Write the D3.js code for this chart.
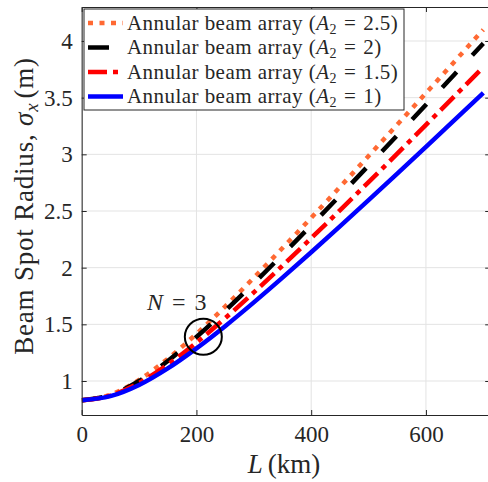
<!DOCTYPE html>
<html>
<head>
<meta charset="utf-8">
<script src="https://cdn.jsdelivr.net/npm/d3@7"></script>
<style>
  body { margin: 0; background: #fff; }
  text { font-family: "Liberation Serif", "DejaVu Serif", serif; fill: #262626; }
</style>
</head>
<body>
<div id="chart"></div>
<script>
// distance L (km)
var distance = [0, 50, 100, 150, 200, 250, 300, 350, 400, 450, 500, 550, 600, 650, 700];

// beam spot radius sigma_x (m)
var radiusA25 = [0.83, 0.879, 1.009, 1.196, 1.416, 1.657, 1.911, 2.173, 2.440, 2.711, 2.986, 3.262, 3.540, 3.820, 4.100];
var radiusA2  = [0.83, 0.876, 1.000, 1.177, 1.388, 1.619, 1.863, 2.115, 2.374, 2.636, 2.901, 3.168, 3.437, 3.707, 3.979];
var radiusA15 = [0.83, 0.871, 0.983, 1.145, 1.339, 1.554, 1.782, 2.018, 2.260, 2.506, 2.755, 3.006, 3.260, 3.514, 3.770];
var radiusA1  = [0.83, 0.866, 0.965, 1.111, 1.288, 1.484, 1.694, 1.912, 2.136, 2.364, 2.596, 2.830, 3.066, 3.304, 3.542];

var seriesLabels = ["2.5", "2", "1.5", "1"];
var xTicks = [0, 200, 400, 600];
var yTicks = [1, 1.5, 2, 2.5, 3, 3.5, 4];

// marked point (N = 3)
var markL = 212, markSigma = 1.39;

var series = [
  {label: seriesLabels[0], values: radiusA25, color: "#ff6933", dash: "5,6.5"},
  {label: seriesLabels[1], values: radiusA2,  color: "#000000", dash: "21,23"},
  {label: seriesLabels[2], values: radiusA15, color: "#ff0000", dash: "19,6,5,6"},
  {label: seriesLabels[3], values: radiusA1,  color: "#0000ff", dash: null}
];

var W = 488, H = 482;
var box = {left: 81.7, right: 490.2, top: 7, bottom: 415};

var svg = d3.select("#chart").append("svg")
    .attr("width", W)
    .attr("height", H);

svg.append("rect").attr("width", W).attr("height", H).attr("fill", "#fff");

var x = d3.scaleLinear().domain([0, 712]).range([box.left, box.right]);
var y = d3.scaleLinear().domain([0.7, 4.3]).range([box.bottom, box.top]);

// grid
var grid = svg.append("g").attr("stroke", "#e3e3e3").attr("stroke-width", 1);
grid.selectAll(".gx").data(xTicks).enter().append("line")
    .attr("x1", function(d) { return x(d); }).attr("x2", function(d) { return x(d); })
    .attr("y1", box.top).attr("y2", box.bottom);
grid.selectAll(".gy").data(yTicks).enter().append("line")
    .attr("x1", box.left).attr("x2", box.right)
    .attr("y1", function(d) { return y(d); }).attr("y2", function(d) { return y(d); });

// curves
svg.append("clipPath").attr("id", "clip")
  .append("rect").attr("x", box.left).attr("y", box.top)
    .attr("width", box.right - box.left).attr("height", box.bottom - box.top);

var line = d3.line()
    .x(function(d, i) { return x(distance[i]); })
    .y(function(d) { return y(d); })
    .curve(d3.curveMonotoneX);

svg.append("g").attr("clip-path", "url(#clip)")
  .selectAll("path").data(series).enter().append("path")
    .attr("d", function(s) { return line(s.values); })
    .attr("fill", "none")
    .attr("stroke", function(s) { return s.color; })
    .attr("stroke-width", 4.5)
    .attr("stroke-dasharray", function(s) { return s.dash; });

// axes (box with inward ticks)
var fmt = function(d) { return String(d); };
var axes = svg.append("g");
axes.append("g")
    .attr("transform", "translate(0," + box.bottom + ")")
    .call(d3.axisBottom(x).tickValues(xTicks).tickFormat(fmt).tickSizeInner(-5).tickSizeOuter(0).tickPadding(11));
axes.append("g")
    .attr("transform", "translate(0," + box.top + ")")
    .call(d3.axisTop(x).tickValues(xTicks).tickSizeInner(-5).tickSizeOuter(0).tickFormat(""));
axes.append("g")
    .attr("transform", "translate(" + box.left + ",0)")
    .call(d3.axisLeft(y).tickValues(yTicks).tickFormat(fmt).tickSizeInner(-5).tickSizeOuter(0).tickPadding(9));
axes.append("g")
    .attr("transform", "translate(" + box.right + ",0)")
    .call(d3.axisRight(y).tickValues(yTicks).tickSizeInner(-5).tickSizeOuter(0).tickFormat(""));

axes.selectAll(".domain").attr("stroke", "#262626").attr("stroke-width", 1);
axes.selectAll(".tick line").attr("stroke", "#262626");
axes.selectAll(".tick text")
    .style("font-family", "'Liberation Serif', serif")
    .style("font-size", "23px")
    .attr("fill", "#262626");

// axis labels
svg.append("text")
    .attr("x", (box.left + box.right) / 2 - 2)
    .attr("y", 473)
    .attr("text-anchor", "middle")
    .style("font-size", "27px")
    .html('<tspan font-style="italic">L</tspan><tspan dx="5">(km)</tspan>');

svg.append("text")
    .attr("transform", "translate(33," + ((box.top + box.bottom) / 2 - 5) + ") rotate(-90)")
    .attr("text-anchor", "middle")
    .style("font-size", "27px")
    .style("letter-spacing", "0.8px")
    .html('Beam Spot Radius, <tspan font-style="italic">σ</tspan><tspan font-style="italic" font-size="19px" dy="5">x</tspan><tspan dy="-5" dx="4">(m)</tspan>');

// N = 3 marker
svg.append("ellipse")
    .attr("cx", x(markL)).attr("cy", y(markSigma))
    .attr("rx", 18.5).attr("ry", 18)
    .attr("fill", "none").attr("stroke", "#000").attr("stroke-width", 2);

svg.append("text")
    .attr("x", 147).attr("y", 310)
    .style("font-size", "24px")
    .attr("fill", "#000")
    .html('<tspan font-style="italic">N</tspan><tspan dx="9">=</tspan><tspan dx="9">3</tspan>');

// legend
var lg = svg.append("g");
lg.append("rect")
    .attr("x", 84).attr("y", 9).attr("width", 320).attr("height", 101)
    .attr("fill", "#fff").attr("stroke", "#262626").attr("stroke-width", 1);

var rows = lg.selectAll(".row").data(series).enter().append("g")
    .attr("transform", function(d, i) { return "translate(0," + (23 + i * 24.5) + ")"; });

rows.append("line")
    .attr("x1", 88).attr("x2", 123)
    .attr("stroke", function(s) { return s.color; })
    .attr("stroke-width", 4.5)
    .attr("stroke-dasharray", function(s) { return s.dash; });

rows.append("text")
    .attr("x", 127).attr("y", 6.5)
    .style("font-size", "21px")
    .style("letter-spacing", "0.45px")
    .attr("fill", "#000")
    .html(function(s) {
      return 'Annular beam array (<tspan font-style="italic">A</tspan><tspan font-size="14px" dy="4">2</tspan><tspan dy="-4" dx="7">=</tspan><tspan dx="7">' + s.label + '</tspan>)';
    });
</script>
</body>
</html>
